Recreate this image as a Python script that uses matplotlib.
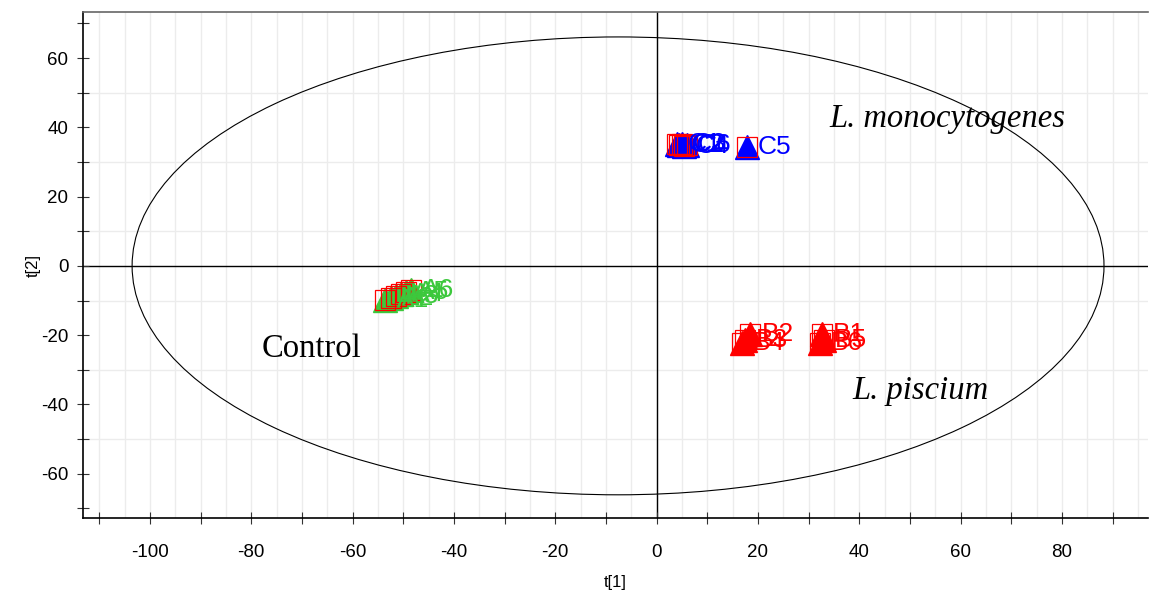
import numpy as np
import matplotlib.pyplot as plt
from matplotlib.patches import Ellipse

# score plot values (t[1], t[2])
control_labels = ["A1", "A2", "A3", "A4", "A5", "A6"]
control_t1 = [-53.5, -52.5, -51.5, -50.5, -49.5, -48.5]
control_t2 = [-9.8, -9.2, -8.6, -8.0, -7.4, -6.9]

mono_labels = ["C1", "C2", "C3", "C4", "C5", "C6"]
mono_t1 = [4.0, 4.5, 5.0, 5.5, 17.8, 6.0]
mono_t2 = [35.3, 34.8, 35.1, 34.6, 34.4, 35.0]

pisc_labels = ["B1", "B2", "B3", "B4", "B5", "B6"]
pisc_t1 = [32.6, 18.5, 17.5, 16.8, 33.0, 32.3]
pisc_t2 = [-19.6, -19.6, -21.4, -22.4, -21.4, -22.4]

# Hotelling T2 ellipse
ell_center = (-7.6, 0.0)
ell_half_w = 95.9
ell_half_h = 66.1

groups = [
    (control_t1, control_t2, control_labels, "#3cc83c"),
    (mono_t1, mono_t2, mono_labels, "#0000ff"),
    (pisc_t1, pisc_t2, pisc_labels, "#ff0000"),
]

plt.rcParams['font.family'] = ['Liberation Sans', 'DejaVu Sans']
plt.rcParams['axes.unicode_minus'] = False

fig = plt.figure(figsize=(11.49, 5.91), dpi=100)
ax = fig.add_axes([0.0722, 0.1235, 0.927, 0.8562])

ax.set_xlim(-113.2, 97.0)
ax.set_ylim(-72.8, 73.3)

# light grid: every 5 on t[1], odd tens on t[2]
for gx in np.arange(-110, 97, 5):
    ax.axvline(gx, color="#ececec", lw=1, zorder=0)
for gy in np.arange(-50, 51, 20):
    ax.axhline(gy, color="#ececec", lw=1, zorder=0)

ax.axhline(0, color="black", lw=1, zorder=1)
ax.axvline(0, color="black", lw=1, zorder=1)

ax.add_patch(Ellipse(ell_center, 2 * ell_half_w, 2 * ell_half_h,
                     fill=False, edgecolor="black", lw=0.8, zorder=2))

for t1, t2, labels, col in groups:
    ax.plot(t1, t2, linestyle="none", marker="^", markersize=17,
            color=col, zorder=3)
    ax.plot(t1, t2, linestyle="none", marker="s", markersize=15,
            markerfacecolor="none", markeredgecolor="#ff0000",
            markeredgewidth=0.9, zorder=4)
    for x, y, lab in zip(t1, t2, labels):
        ax.annotate(lab, (x, y), xytext=(8, 0), textcoords="offset points",
                    va="center", ha="left", fontsize=19, color=col, zorder=5)

serif = dict(family="Liberation Serif", fontsize=23.5)
ax.text(34.1, 42.5, "L. monocytogenes", style="italic", va="center", **serif)
ax.text(38.7, -36.2, "L. piscium", style="italic", va="center", **serif)
ax.text(-77.9, -24.0, "Control", va="center", **serif)

ax.set_xticks(np.arange(-100, 81, 20))
ax.set_xticks(np.arange(-110, 91, 10), minor=True)
ax.set_yticks(np.arange(-60, 61, 20))
ax.set_yticks(np.arange(-70, 71, 10), minor=True)
ax.tick_params(which="both", direction="inout", length=9, width=0.8,
               color="#333333", labelsize=13.5)
ax.tick_params(axis="x", pad=14)
ax.tick_params(axis="y", pad=6)

ax.spines["right"].set_visible(False)
ax.spines["top"].set_color("#666666")
ax.spines["top"].set_linewidth(1.2)
ax.spines["left"].set_linewidth(1.2)
ax.spines["bottom"].set_linewidth(1.2)

ax.set_xlabel("t[1]", fontsize=12, labelpad=10)
ax.set_ylabel("t[2]", fontsize=12, labelpad=0)

fig.savefig("out.png", dpi=100)
